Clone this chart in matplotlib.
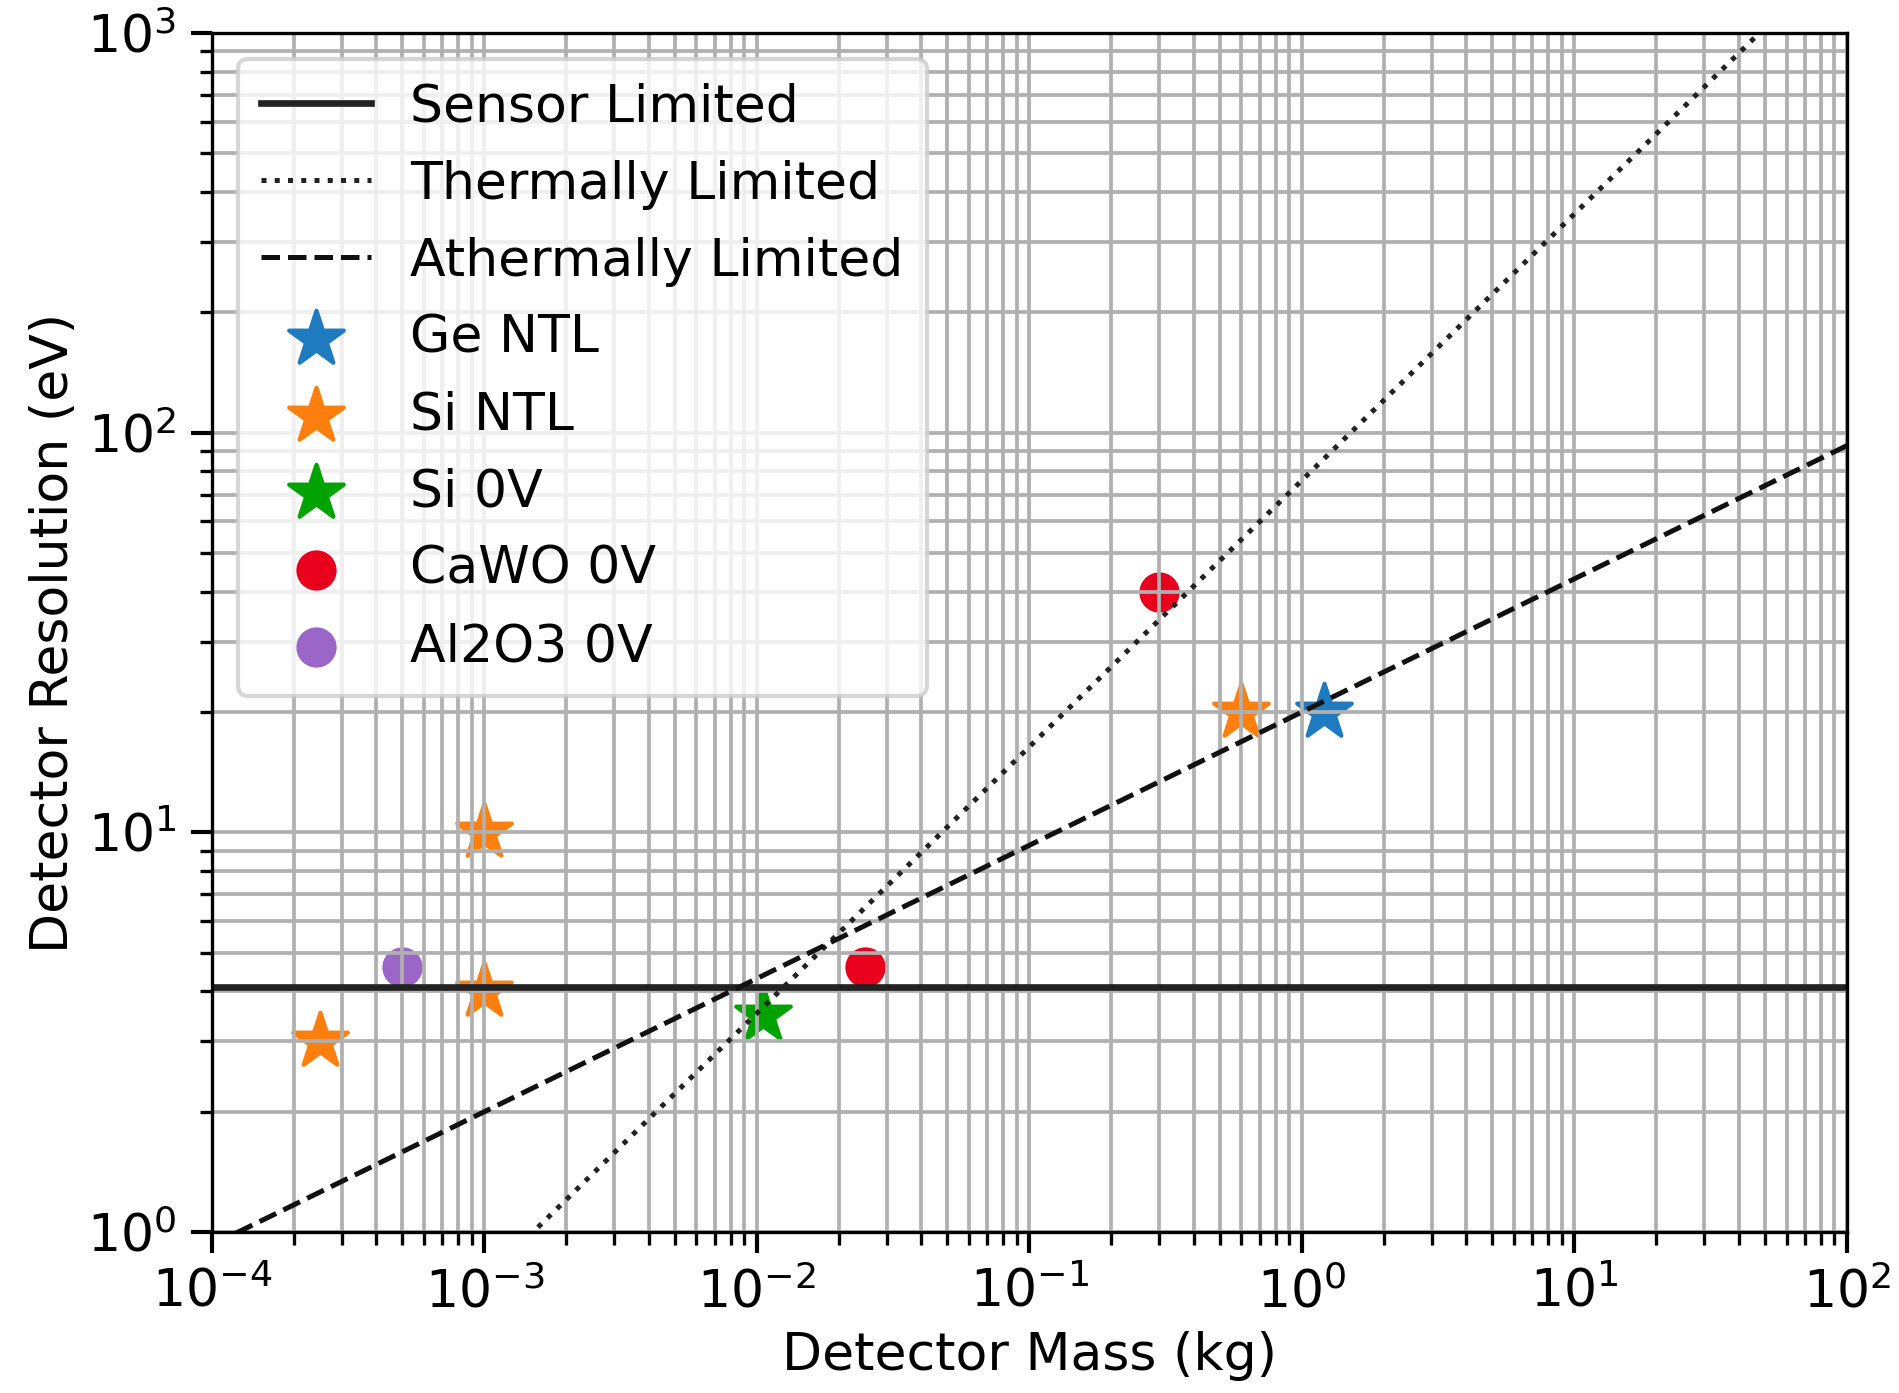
import numpy as np
import matplotlib
matplotlib.use('Agg')
import matplotlib.pyplot as plt

# data
ge_ntl_mass = [1.2]
ge_ntl_res = [20]
si_ntl_mass = [2.5e-4, 1e-3, 1e-3, 0.6]
si_ntl_res = [3.0, 10.0, 4.0, 20.0]
si_0v_mass = [0.0105]
si_0v_res = [3.5]
cawo_mass = [0.3, 0.025]
cawo_res = [40.0, 4.6]
al2o3_mass = [5e-4]
al2o3_res = [4.6]

sensor_res = 4.1          # eV, flat sensor limit
thermal_coef = 76.0       # res = coef * m^(2/3)
athermal_coef = 20.0      # res = coef * m^(1/3)

def main():
    plt.rcParams['font.size'] = 12.5
    fig = plt.figure(figsize=(1899 / 300, 1393 / 300), dpi=300)
    ax = fig.add_axes([0.1116, 0.1156, 0.861, 0.8607])

    m = np.logspace(-4, 2, 400)
    ax.plot(m, np.full_like(m, sensor_res), '-', color='#222222', lw=1.6, label='Sensor Limited')
    ax.plot(m, thermal_coef * m ** (2 / 3), ':', color='#222222', lw=1.2, label='Thermally Limited')
    ax.plot(m, athermal_coef * m ** (1 / 3), '--', color='#111111', lw=1.2, label='Athermally Limited')

    ax.scatter(ge_ntl_mass, ge_ntl_res, marker='*', s=190, color='#1f7bbf', label='Ge NTL')
    ax.scatter(si_ntl_mass, si_ntl_res, marker='*', s=190, color='#ff7f0e', label='Si NTL')
    ax.scatter(si_0v_mass, si_0v_res, marker='*', s=190, color='#00a300', label='Si 0V')
    ax.scatter(cawo_mass, cawo_res, marker='o', s=75, color='#e8001c', label='CaWO 0V')
    ax.scatter(al2o3_mass, al2o3_res, marker='o', s=75, color='#9b66c8', label='Al2O3 0V')

    ax.set_xscale('log')
    ax.set_yscale('log')
    ax.set_xlim(1e-4, 1e2)
    ax.set_ylim(1e0, 1e3)
    ax.grid(True, which='both', color='#b0b0b0', lw=0.9)
    ax.set_xlabel('Detector Mass (kg)', labelpad=3)
    ax.set_ylabel('Detector Resolution (eV)', labelpad=2)
    ax.tick_params(which='major', length=5, width=1)
    ax.tick_params(which='minor', length=3, width=0.8)

    ax.legend(loc='upper left', borderpad=0.45, labelspacing=0.52, handlelength=2.1,
              handletextpad=0.75, borderaxespad=0.5, framealpha=0.8)

    plt.savefig('out.png', dpi=300)

if __name__ == '__main__':
    main()
